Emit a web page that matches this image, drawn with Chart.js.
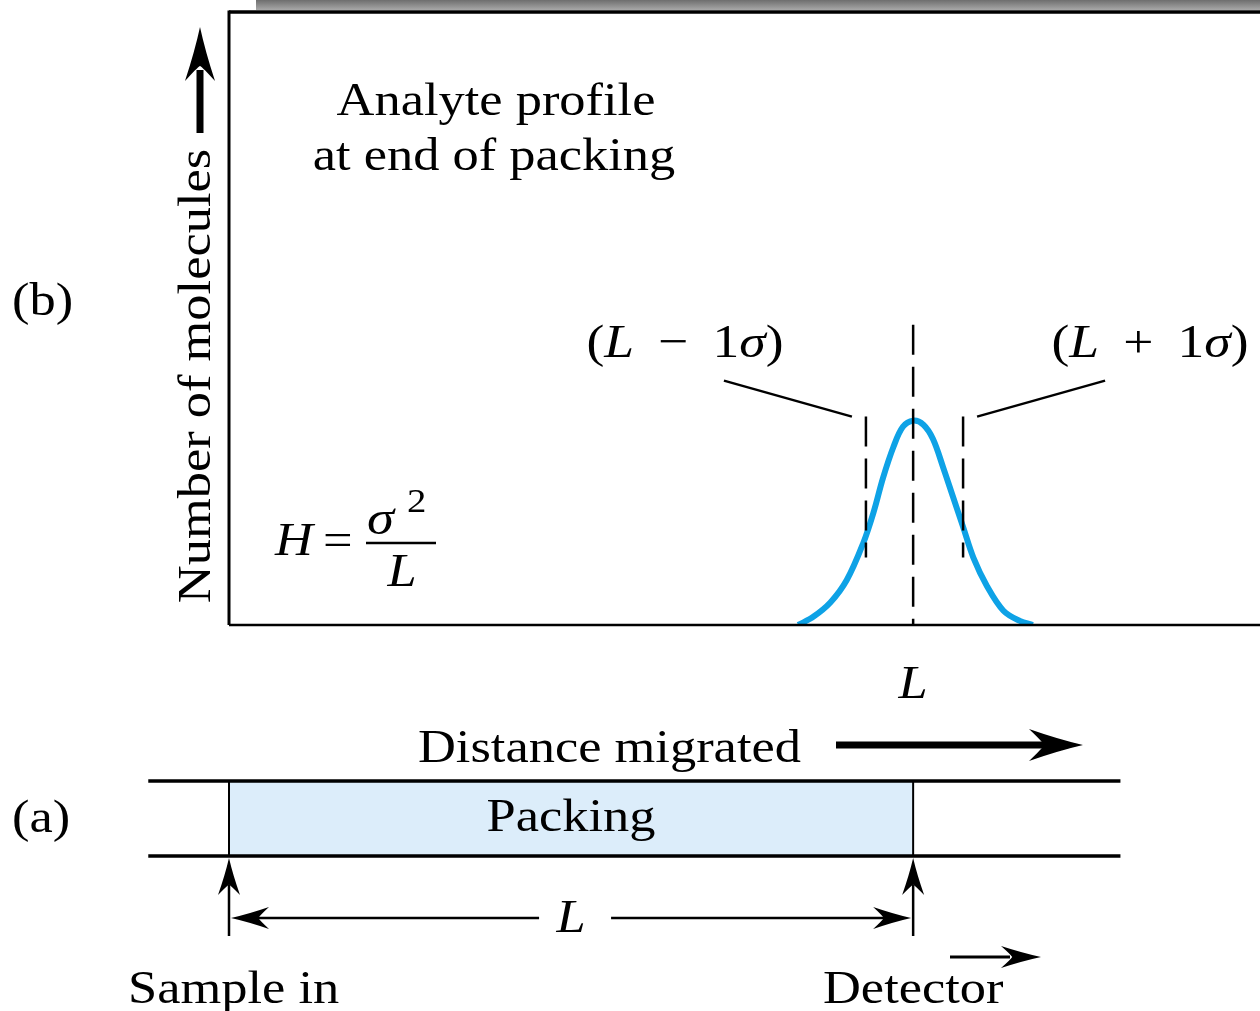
<!DOCTYPE html>
<html>
<head>
<meta charset="utf-8">
<script src="https://cdn.jsdelivr.net/npm/chart.js@4.4.0/dist/chart.umd.min.js"></script>
<style>
  body { margin: 0; background: #fff; }
  #wrap { width: 1260px; height: 1011px; }
</style>
</head>
<body>
<div id="wrap"><canvas id="bandChart"></canvas></div>
<script>
/* ===================== DATA ===================== */
const columnLength = 10;          // L : end of packing / detector
const distance  = [8.32, 8.54, 8.79, 9.03, 9.27, 9.42, 9.56, 9.71, 9.85, 10.0,
                   10.15, 10.29, 10.44, 10.58, 10.73, 10.88, 11.08, 11.32, 11.56, 11.75];
const molecules = [0.0, 0.04, 0.11, 0.22, 0.40, 0.55, 0.72, 0.87, 0.97, 1.00,
                   0.98, 0.91, 0.77, 0.63, 0.48, 0.33, 0.19, 0.07, 0.02, 0.0];
const sigmaMarks = [9.31, 10.73]; // L - 1σ , L + 1σ

const SERIF = '"Liberation Serif", "DejaVu Serif", serif';
const STRETCH = 1.14;             // the printed type is a little wide

function fnt(size, italic) {
  return (italic ? 'italic ' : '') + size + 'px ' + SERIF;
}

function text(ctx, str, x, y, size, align) {
  ctx.save();
  ctx.translate(x, y);
  ctx.scale(STRETCH, 1);
  ctx.font = fnt(size, false);
  ctx.textAlign = align || 'left';
  ctx.fillText(str, 0, 0);
  ctx.restore();
}

/* draws mixed roman / italic pieces on one baseline */
function drawRuns(ctx, parts, x, y, size, align) {
  const widths = parts.map(p => { ctx.font = fnt(size, p[1]); return ctx.measureText(p[0]).width * STRETCH; });
  const total = widths.reduce((a, b) => a + b, 0);
  let cx = align === 'center' ? x - total / 2 : x;
  parts.forEach((p, i) => {
    ctx.save();
    ctx.translate(cx, y);
    ctx.scale(STRETCH, 1);
    ctx.font = fnt(size, p[1]);
    ctx.textAlign = 'left';
    ctx.fillText(p[0], 0, 0);
    ctx.restore();
    cx += widths[i];
  });
}

function arrowHead(ctx, x, y, angle, len, half) {
  ctx.save();
  ctx.translate(x, y);
  ctx.rotate(angle);
  ctx.beginPath();
  ctx.moveTo(0, 0);
  ctx.quadraticCurveTo(-len * 0.45, -half * 0.35, -len, -half);
  ctx.quadraticCurveTo(-len * 0.75, -half * 0.2, -len * 0.72, 0);
  ctx.quadraticCurveTo(-len * 0.75, half * 0.2, -len, half);
  ctx.quadraticCurveTo(-len * 0.45, half * 0.35, 0, 0);
  ctx.closePath();
  ctx.fill();
  ctx.restore();
}

function line(ctx, x1, y1, x2, y2, w) {
  ctx.lineWidth = w;
  ctx.beginPath();
  ctx.moveTo(x1, y1);
  ctx.lineTo(x2, y2);
  ctx.stroke();
}

/* ===================== FIGURE PLUGIN ===================== */
const figurePlugin = {
  id: 'figure',
  beforeDraw(chart) {
    const ctx = chart.ctx;
    const a = chart.chartArea;
    ctx.save();
    // page edge shadow at the top
    const g = ctx.createLinearGradient(0, 0, 0, a.top - 2);
    g.addColorStop(0, '#6e6e6e');
    g.addColorStop(1, '#a8a8a8');
    ctx.fillStyle = g;
    ctx.fillRect(a.left + 27, 0, chart.width - a.left - 27, a.top - 2);
    ctx.restore();
  },
  afterDatasetsDraw(chart) {
    const ctx = chart.ctx;
    const a = chart.chartArea;
    const xs = chart.scales.x;
    const ys = chart.scales.y;
    const xL = xs.getPixelForValue(columnLength);
    const x0 = xs.getPixelForValue(0);

    ctx.save();
    ctx.strokeStyle = '#000';
    ctx.fillStyle = '#000';
    ctx.lineCap = 'butt';

    // frame of panel (b)
    line(ctx, a.left, a.top, a.right, a.top, 3.5);
    line(ctx, a.left, a.top - 1.5, a.left, a.bottom, 3);
    line(ctx, a.left, a.bottom, a.right, a.bottom, 2.5);

    // dashed lines: centre and ±1σ
    ctx.setLineDash([30, 12]);
    line(ctx, xL, ys.getPixelForValue(1.47), xL, a.bottom, 2.5);
    sigmaMarks.forEach(s => {
      const px = xs.getPixelForValue(s);
      line(ctx, px, ys.getPixelForValue(1.02), px, ys.getPixelForValue(0.33), 2.5);
    });
    ctx.setLineDash([]);

    // leaders to σ labels
    const sL = xs.getPixelForValue(sigmaMarks[0]);
    const sR = xs.getPixelForValue(sigmaMarks[1]);
    const yl = ys.getPixelForValue(1.02);
    line(ctx, sL - 14, yl, sL - 142, yl - 36, 2.5);
    line(ctx, sR + 14, yl, sR + 142, yl - 36, 2.5);

    drawRuns(ctx, [['(', 0], ['L', 1], [' \u2009\u2212\u2009 1', 0], ['\u03c3', 1], [')', 0]], 685, 357, 47, 'center');
    drawRuns(ctx, [['(', 0], ['L', 1], [' \u2009+\u2009 1', 0], ['\u03c3', 1], [')', 0]], 1150, 357, 47, 'center');

    // titles and labels of panel (b)
    text(ctx, 'Analyte profile', 496, 115, 46, 'center');
    text(ctx, 'at end of packing', 494, 170, 46, 'center');
    text(ctx, '(b)', 12, 315, 46, 'left');

    // y axis title with arrow
    ctx.save();
    ctx.translate(210, 376);
    ctx.rotate(-Math.PI / 2);
    text(ctx, 'Number of molecules', 0, 0, 46, 'center');
    ctx.restore();
    line(ctx, 200, 133, 200, 70, 7);
    arrowHead(ctx, 200, 27, -Math.PI / 2, 54, 15);

    // H = σ² / L
    drawRuns(ctx, [['H', 1]], 275, 555, 46, 'left');
    drawRuns(ctx, [['=', 0]], 323, 555, 46, 'left');
    drawRuns(ctx, [['\u03c3', 1]], 367, 534, 48, 'left');
    drawRuns(ctx, [['2', 0]], 407, 512, 34, 'left');
    line(ctx, 366, 543, 436, 543, 2.5);
    drawRuns(ctx, [['L', 1]], 402, 586, 46, 'center');

    // L under the axis
    drawRuns(ctx, [['L', 1]], xL, 698, 46, 'center');

    // distance migrated
    text(ctx, 'Distance migrated', 418, 762, 46, 'left');
    line(ctx, 836, 745, 1045, 745, 7);
    arrowHead(ctx, 1083, 745, 0, 54, 16);

    /* ---------- panel (a): the column ---------- */
    const tubeL = xs.getPixelForValue(-1.18);
    const tubeR = xs.getPixelForValue(13.03);
    const yTop = 781, yBot = 856;
    ctx.fillStyle = '#dcedfa';
    ctx.fillRect(x0, yTop, xL - x0, yBot - yTop);
    ctx.fillStyle = '#000';
    line(ctx, tubeL, yTop, tubeR, yTop, 3.5);
    line(ctx, tubeL, yBot, tubeR, yBot, 3.5);
    line(ctx, x0, yTop, x0, yBot, 2);
    line(ctx, xL, yTop, xL, yBot, 2);

    text(ctx, 'Packing', (x0 + xL) / 2, 831, 46, 'center');
    text(ctx, '(a)', 12, 832, 46, 'left');

    // sample in / detector arrows
    [x0, xL].forEach(px => {
      line(ctx, px, 936, px, 885, 2.5);
      arrowHead(ctx, px, 858, -Math.PI / 2, 37, 11);
    });

    // length L dimension
    const mid = (x0 + xL) / 2;
    line(ctx, x0 + 20, 918, mid - 32, 918, 2.5);
    line(ctx, mid + 40, 918, xL - 20, 918, 2.5);
    arrowHead(ctx, x0 + 2, 918, Math.PI, 38, 11);
    arrowHead(ctx, xL - 2, 918, 0, 38, 11);
    drawRuns(ctx, [['L', 1]], mid, 932, 46, 'center');

    text(ctx, 'Sample in', 128, 1003, 46, 'left');
    text(ctx, 'Detector', 823, 1003, 46, 'left');
    line(ctx, 950, 957, 1010, 957, 3);
    arrowHead(ctx, 1041, 957, 0, 40, 11);

    ctx.restore();
  }
};

/* ===================== CHART ===================== */
document.addEventListener('DOMContentLoaded', () => {
  const ctx = document.getElementById('bandChart');
  new Chart(ctx.getContext('2d'), {
    type: 'scatter',
    data: {
      datasets: [{
        data: distance.map((d, i) => ({ x: d, y: molecules[i] })),
        showLine: true,
        borderColor: '#0ea2e6',
        borderWidth: 6,
        pointRadius: 0,
        tension: 0.35
      }]
    },
    options: {
      animation: false,
      responsive: true,
      maintainAspectRatio: false,
      layout: { padding: { left: 229, top: 12, right: 0, bottom: 386 } },
      plugins: {
        legend: { display: false },
        tooltip: { enabled: false }
      },
      scales: {
        x: { type: 'linear', min: 0, max: 15.07, display: false },
        y: { min: 0, max: 3, display: false }
      }
    },
    plugins: [figurePlugin]
  });
});
</script>
</body>
</html>
